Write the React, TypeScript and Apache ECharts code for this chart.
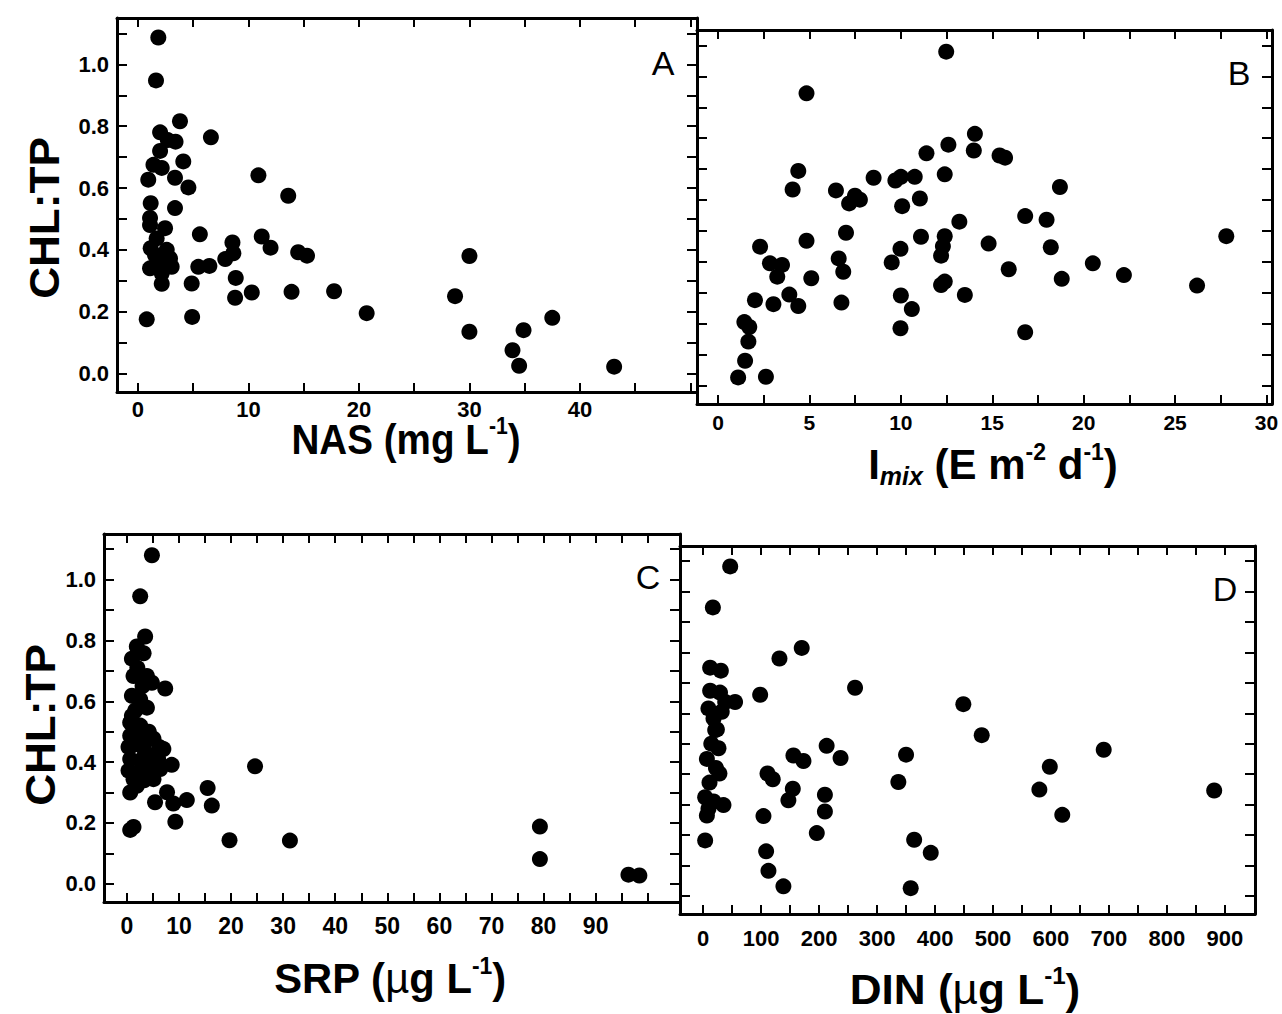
import React, { useEffect, useRef } from 'react';
import * as echarts from 'echarts';

const FONT = "'Liberation Sans', Arial, Helvetica, sans-serif";

// y axis (CHL:TP), shared by all panels
const yTickValues = [0, 0.1, 0.2, 0.3, 0.4, 0.5, 0.6, 0.7, 0.8, 0.9, 1.0, 1.1];
const yLabelValues = [0, 0.2, 0.4, 0.6, 0.8, 1.0];

// x axes
const nasTicks = [0, 5, 10, 15, 20, 25, 30, 35, 40, 45, 50];
const nasLabels = [0, 10, 20, 30, 40];
const imixTicks = [0, 2.5, 5, 7.5, 10, 12.5, 15, 17.5, 20, 22.5, 25, 27.5, 30];
const imixLabels = [0, 5, 10, 15, 20, 25, 30];
const srpTicks = [0, 5, 10, 15, 20, 25, 30, 35, 40, 45, 50, 55, 60, 65, 70, 75, 80, 85, 90, 95, 100];
const srpLabels = [0, 10, 20, 30, 40, 50, 60, 70, 80, 90];
const dinTicks = [0, 50, 100, 150, 200, 250, 300, 350, 400, 450, 500, 550, 600, 650, 700, 750, 800, 850, 900];
const dinLabels = [0, 100, 200, 300, 400, 500, 600, 700, 800, 900];

// Panel A: NAS (mg L-1) vs CHL:TP
const nasData = [
  [1.84, 1.087], [1.63, 0.948], [3.8, 0.816], [2.0, 0.78], [2.7, 0.755], [3.4, 0.75], [6.6, 0.764],
  [2.0, 0.72], [4.1, 0.686], [1.4, 0.675], [2.15, 0.665], [0.93, 0.627], [3.35, 0.633], [4.56, 0.602],
  [10.9, 0.641], [13.6, 0.575], [1.15, 0.551], [3.35, 0.535], [1.09, 0.503], [1.09, 0.48], [2.45, 0.47],
  [1.69, 0.437], [5.6, 0.45], [11.2, 0.443], [12.0, 0.407], [8.55, 0.424], [8.63, 0.389], [7.9, 0.37],
  [14.5, 0.392], [15.3, 0.381], [1.15, 0.405], [1.54, 0.383], [2.9, 0.372], [1.09, 0.34], [3.05, 0.345],
  [2.15, 0.324], [5.46, 0.345], [6.46, 0.348], [2.15, 0.29], [4.86, 0.291], [8.85, 0.309], [8.79, 0.245],
  [10.3, 0.262], [13.9, 0.264], [17.75, 0.266], [20.7, 0.195], [0.79, 0.175], [4.9, 0.183],
  [30.0, 0.38], [28.7, 0.25], [30.0, 0.135], [34.9, 0.14], [37.5, 0.18], [33.9, 0.075], [34.5, 0.025], [43.1, 0.022],
  [1.9, 0.36], [2.6, 0.4],
];

// Panel B: Imix (E m-2 d-1) vs CHL:TP
const imixData = [
  [12.48, 1.08], [4.84, 0.945], [14.05, 0.814], [13.99, 0.76], [12.6, 0.779], [11.4, 0.751], [4.39, 0.694],
  [4.08, 0.634], [8.51, 0.672], [9.7, 0.663], [10.0, 0.675], [10.76, 0.675], [12.4, 0.683], [6.45, 0.631],
  [7.49, 0.614], [7.76, 0.601], [7.17, 0.589], [11.04, 0.605], [10.07, 0.58], [13.2, 0.53], [7.0, 0.494],
  [4.84, 0.468], [2.3, 0.449], [11.1, 0.481], [12.4, 0.483], [12.3, 0.45], [12.2, 0.42], [9.98, 0.442],
  [9.5, 0.398], [14.8, 0.459], [2.84, 0.395], [3.5, 0.39], [3.24, 0.352], [6.6, 0.411], [6.85, 0.368],
  [5.1, 0.347], [12.4, 0.336], [12.2, 0.325], [2.02, 0.276], [3.03, 0.263], [3.9, 0.294], [4.39, 0.257],
  [6.75, 0.268], [10.0, 0.291], [10.6, 0.247], [13.5, 0.293], [9.98, 0.185], [1.44, 0.205], [1.71, 0.189],
  [1.66, 0.142], [1.48, 0.08], [1.1, 0.026], [2.62, 0.028], [15.4, 0.744], [15.7, 0.737], [18.7, 0.642],
  [16.8, 0.548], [17.97, 0.536], [18.2, 0.447], [15.9, 0.376], [20.5, 0.395], [18.8, 0.345], [22.2, 0.357],
  [26.2, 0.323], [27.8, 0.483], [16.8, 0.172],
];

// Panel C: SRP (ug L-1) vs CHL:TP
const srpData = [
  [4.8, 1.08], [2.55, 0.945], [3.5, 0.813], [1.9, 0.78], [3.2, 0.758], [0.96, 0.74], [1.27, 0.683],
  [3.84, 0.683], [4.8, 0.661], [7.35, 0.642], [0.96, 0.618], [2.55, 0.606], [3.84, 0.579], [0.96, 0.552],
  [0.63, 0.53], [2.55, 0.52], [0.63, 0.487], [2.55, 0.487], [5.1, 0.477], [0.96, 0.454], [3.2, 0.448],
  [7.0, 0.443], [5.1, 0.421], [0.63, 0.41], [2.55, 0.405], [8.6, 0.391], [0.31, 0.372], [3.84, 0.377],
  [6.4, 0.377], [1.27, 0.344], [5.1, 0.344], [0.63, 0.3], [1.9, 0.322], [7.7, 0.301], [5.4, 0.268],
  [8.9, 0.264], [11.5, 0.275], [9.3, 0.204], [15.5, 0.315], [16.3, 0.257], [24.6, 0.386], [19.7, 0.143],
  [31.3, 0.142], [0.63, 0.177], [1.27, 0.187], [79.3, 0.188], [79.3, 0.081], [96.3, 0.03], [98.4, 0.027],
  [1.9, 0.46], [3.5, 0.43], [4.4, 0.39], [2.2, 0.36], [6.0, 0.41], [1.6, 0.57], [3.0, 0.65],
  [0.3, 0.45], [4.2, 0.5], [2.0, 0.71], [6.2, 0.45], [3.3, 0.34],
];

// Panel D: DIN (ug L-1) vs CHL:TP
const dinData = [
  [46.6, 1.083], [16.7, 0.948], [170, 0.815], [131.6, 0.78], [12, 0.75], [30.5, 0.74], [12, 0.674],
  [29, 0.668], [55, 0.637], [98.3, 0.661], [262, 0.684], [9.1, 0.616], [32, 0.605], [17.8, 0.583],
  [20.7, 0.545], [26.4, 0.485], [6.4, 0.45], [28, 0.402], [10.9, 0.372], [3.4, 0.324], [35, 0.298],
  [9.1, 0.286], [6.4, 0.264], [3.4, 0.182], [111, 0.402], [120, 0.383], [155.7, 0.461], [173, 0.443],
  [213, 0.493], [237, 0.453], [154.6, 0.352], [147, 0.314], [210, 0.332], [210, 0.277], [104, 0.262],
  [196, 0.206], [108.6, 0.146], [112.6, 0.082], [138.4, 0.031], [350, 0.464], [336.7, 0.374], [364, 0.184],
  [392.6, 0.141], [358, 0.025], [448.8, 0.63], [480.5, 0.528], [691, 0.48], [598, 0.424], [580, 0.349],
  [619.5, 0.266], [881.6, 0.346], [38, 0.637], [23.6, 0.547], [22, 0.42], [18, 0.31], [14, 0.5],
];

const Y_MIN = -0.06;
const Y_MAX = 1.15;

const lineStyle = { color: '#000', width: 3 };
const tickStyle = { color: '#000', width: 2 };

function xAxesFor(gridIndex: number, min: number, max: number, ticks: number[], labels: number[], fontSize: number, margin: number) {
  const base = {
    type: 'value',
    gridIndex,
    min,
    max,
    splitLine: { show: false },
    axisLine: { show: true, onZero: false, lineStyle },
    axisTick: { show: true, inside: true, length: 9, lineStyle: tickStyle, customValues: ticks },
  };
  return [
    {
      ...base,
      position: 'bottom',
      axisLabel: {
        show: true,
        customValues: labels,
        color: '#000',
        fontSize,
        fontWeight: 'bold',
        fontFamily: FONT,
        margin,
        formatter: (v: number) => String(v),
      },
    },
    { ...base, position: 'top', axisLabel: { show: false } },
  ];
}

function yAxesFor(gridIndex: number, showLabels: boolean) {
  const base = {
    type: 'value',
    gridIndex,
    min: Y_MIN,
    max: Y_MAX,
    splitLine: { show: false },
    axisLine: { show: true, onZero: false, lineStyle },
    axisTick: { show: true, inside: true, length: 10, lineStyle: tickStyle, customValues: yTickValues },
  };
  return [
    {
      ...base,
      position: 'left',
      axisLabel: {
        show: showLabels,
        customValues: yLabelValues,
        color: '#000',
        fontSize: 22,
        fontWeight: 'bold',
        fontFamily: FONT,
        margin: 8,
        formatter: (v: number) => v.toFixed(1),
      },
    },
    { ...base, position: 'right', axisLabel: { show: false } },
  ];
}

const titleRich = {
  a: { fontSize: 42, fontWeight: 'bold', fontFamily: FONT, fill: '#000', lineHeight: 48 },
  s: { fontSize: 23, fontWeight: 'bold', fontFamily: FONT, fill: '#000', lineHeight: 23, verticalAlign: 'top' },
  m: { fontSize: 25, fontWeight: 'bold', fontStyle: 'italic', fontFamily: FONT, fill: '#000', lineHeight: 25, verticalAlign: 'bottom' },
  u: { fontSize: 42, fontWeight: 'normal', fontFamily: FONT, fill: '#000', lineHeight: 48 },
};

function title(x: number, y: number, text: string, scaleX: number, rotation = 0) {
  return {
    type: 'text',
    x,
    y,
    rotation,
    scaleX,
    style: { text, rich: titleRich, align: 'center', verticalAlign: 'middle', fill: '#000' },
  };
}

function letter(x: number, y: number, text: string) {
  return {
    type: 'text',
    x,
    y,
    style: { text, fontSize: 34, fontFamily: FONT, fill: '#000', align: 'center', verticalAlign: 'middle' },
  };
}

export default function App() {
  const ref = useRef<HTMLDivElement>(null);

  useEffect(() => {
    document.body.style.margin = '0';
    if (!ref.current) return;
    const chart = echarts.init(ref.current, undefined, { renderer: 'svg' });

    const grids = [
      { left: 117, top: 18, width: 580, height: 374 },
      { left: 697, top: 30, width: 575, height: 374 },
      { left: 104, top: 534, width: 576, height: 368 },
      { left: 680, top: 546, width: 575, height: 368 },
    ];

    const option = {
      animation: false,
      backgroundColor: '#fff',
      grid: grids.map((g) => ({ ...g, containLabel: false })),
      xAxis: [
        ...xAxesFor(0, -1.9, 50.6, nasTicks, nasLabels, 22, 6),
        ...xAxesFor(1, -1.15, 30.3, imixTicks, imixLabels, 21, 8),
        ...xAxesFor(2, -4.4, 106.2, srpTicks, srpLabels, 23, 12),
        ...xAxesFor(3, -40, 952, dinTicks, dinLabels, 22, 13),
      ],
      yAxis: [
        ...yAxesFor(0, true),
        ...yAxesFor(1, false),
        ...yAxesFor(2, true),
        ...yAxesFor(3, false),
      ],
      series: [nasData, imixData, srpData, dinData].map((d, i) => ({
        type: 'scatter',
        xAxisIndex: i * 2,
        yAxisIndex: i * 2,
        data: d,
        symbol: 'circle',
        symbolSize: 16,
        itemStyle: { color: '#000', opacity: 1 },
        emphasis: { disabled: true },
      })),
      graphic: [
        title(406, 439, '{a|NAS (mg L}{s|-1}{a|)}', 0.92),
        title(993, 464, '{a|I}{m|mix}{a| (E m}{s|-2}{a| d}{s|-1}{a|)}', 1.0),
        title(390, 978, '{a|SRP (}{u|µ}{a|g L}{s|-1}{a|)}', 0.995),
        title(965, 989, '{a|DIN (}{u|µ}{a|g L}{s|-1}{a|)}', 1.05),
        title(44, 218, '{a|CHL:TP}', 1.05, Math.PI / 2),
        title(40, 725, '{a|CHL:TP}', 1.05, Math.PI / 2),
        letter(663, 63, 'A'),
        letter(1239, 73, 'B'),
        letter(648, 577, 'C'),
        letter(1225, 589, 'D'),
      ],
    };

    chart.setOption(option as any);
    return () => {
      chart.dispose();
    };
  }, []);

  return <div ref={ref} style={{ width: 1282, height: 1014 }} />;
}
